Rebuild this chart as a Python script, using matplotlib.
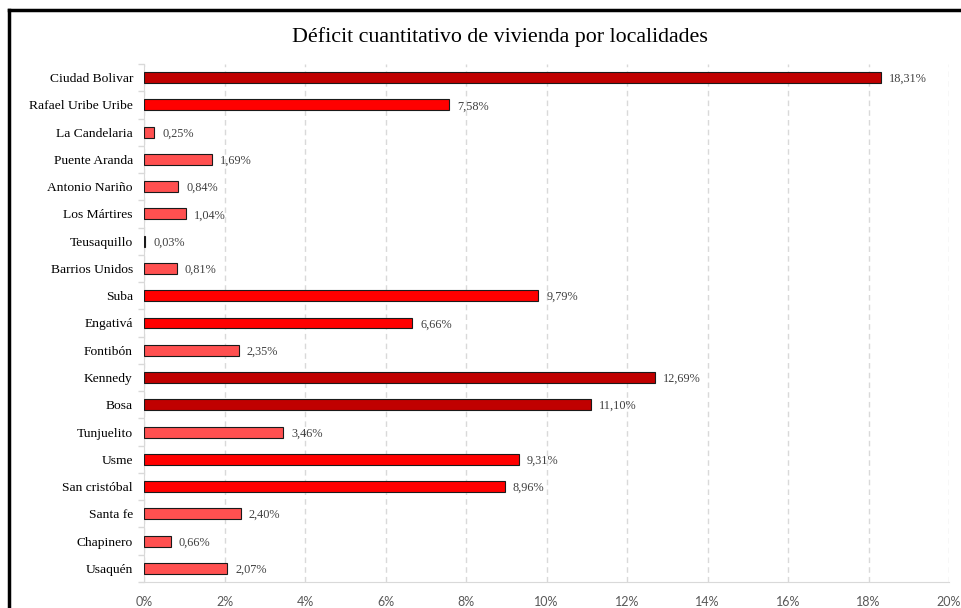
import matplotlib
matplotlib.use("Agg")
import matplotlib.pyplot as plt
from matplotlib.lines import Line2D
from matplotlib.ticker import FuncFormatter, MultipleLocator
import numpy as np

localidades = ["Ciudad Bolivar", "Rafael Uribe Uribe", "La Candelaria", "Puente Aranda",
               "Antonio Nariño", "Los Mártires", "Teusaquillo", "Barrios Unidos", "Suba",
               "Engativá", "Fontibón", "Kennedy", "Bosa", "Tunjuelito", "Usme",
               "San cristóbal", "Santa fe", "Chapinero", "Usaquén"]
deficit = [18.31, 7.58, 0.25, 1.69, 0.84, 1.04, 0.03, 0.81, 9.79,
           6.66, 2.35, 12.69, 11.10, 3.46, 9.31, 8.96, 2.40, 0.66, 2.07]

def bar_color(v):
    if v >= 10:
        return "#C00000"
    if v >= 5:
        return "#FF0000"
    return "#FF5050"

fig = plt.figure(figsize=(9.61, 6.08), dpi=100)
ax = fig.add_axes([144/961, 1 - 582/608, (949 - 144)/961, (582 - 64)/608])

y = np.arange(len(localidades))[::-1]
colors = [bar_color(v) for v in deficit]
ax.barh(y, deficit, height=0.4, color=colors, edgecolor="#1a1a1a", linewidth=0.8, zorder=3)

for yi, v in zip(y, deficit):
    ax.annotate(f"{v:.2f}%".replace(".", ","), (v, yi), xytext=(6, -1),
                textcoords="offset points", va="center", ha="left",
                fontsize=8.8, family="Liberation Serif", color="#404040")

ax.set_xlim(0, 20)
ax.set_ylim(-0.5, len(localidades) - 0.5)
ax.xaxis.set_major_locator(MultipleLocator(2))
ax.xaxis.set_major_formatter(FuncFormatter(lambda x, p: f"{x:.0f}%"))
ax.set_yticks(y)
ax.set_yticklabels(localidades, family="Liberation Serif", fontsize=9.7, color="#000000")
ax.set_yticks(np.arange(-0.5, len(localidades), 1), minor=True)
ax.tick_params(axis="y", which="major", length=0, pad=8)
ax.tick_params(axis="y", which="minor", length=4, color="#D9D9D9", width=1)
ax.tick_params(axis="x", length=0, pad=10, labelsize=9, labelcolor="#595959")
for lab in ax.get_xticklabels():
    lab.set_family("Lato")

ax.grid(axis="x", color="#D9D9D9", linestyle=(0, (4, 3)), linewidth=1, zorder=0)
for s in ["top", "right"]:
    ax.spines[s].set_visible(False)
ax.spines["left"].set_color("#D9D9D9")
ax.spines["bottom"].set_color("#D9D9D9")

fig.text(500/961, 1 - 37/608, "Déficit cuantitativo de vivienda por localidades",
         ha="center", va="center", fontsize=15.8, family="Liberation Serif", color="#000000")

# black frame (left and top edges visible)
fig.add_artist(Line2D([9/961, 9/961], [0, 1 - 10/608], color="black", linewidth=2.5,
                      transform=fig.transFigure))
fig.add_artist(Line2D([9/961, 1], [1 - 10/608, 1 - 10/608], color="black", linewidth=2.5,
                      transform=fig.transFigure))

fig.savefig("out.png", dpi=100)
